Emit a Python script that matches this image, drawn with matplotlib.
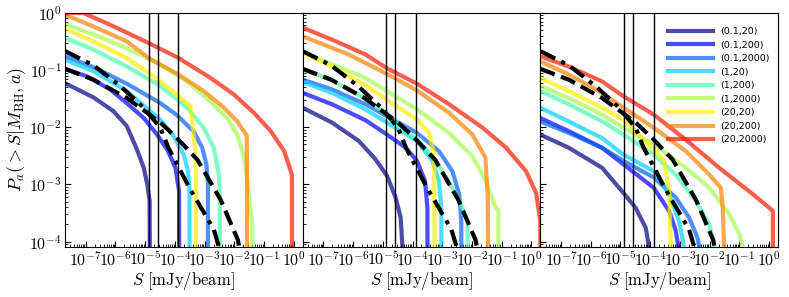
import numpy as np
import matplotlib
matplotlib.use("Agg")
import matplotlib.pyplot as plt
from matplotlib.ticker import LogLocator, FuncFormatter, NullFormatter

plt.rcParams['mathtext.fontset'] = 'cm'

labels = ['(0.1,20)', '(0.1,200)', '(0.1,2000)', '(1,20)', '(1,200)',
          '(1,2000)', '(20,20)', '(20,200)', '(20,2000)']

# curves as (log10 S, log10 P); -9 marks the cut to ~0
# panel 1
p1_logS = [
    [-7.70, -6.74, -6.07, -5.62, -5.27, -5.05, -4.93, -4.85, -4.83],
    [-7.70, -6.97, -6.18, -5.62, -5.05, -4.60, -4.25, -3.98, -3.86, -3.84],
    [-7.70, -6.74, -5.62, -4.49, -3.93, -3.36, -3.08, -2.94, -2.89, -2.88],
    [-7.70, -6.74, -5.62, -4.49, -4.04, -3.70, -3.56, -3.51, -3.50],
    [-7.70, -6.74, -5.62, -4.49, -3.59, -3.03, -2.69, -2.52, -2.49, -2.48],
    [-7.70, -6.74, -5.62, -4.49, -3.59, -2.80, -2.24, -1.90, -1.73, -1.62, -1.40, -1.38],
    [-7.70, -6.74, -5.62, -4.88, -4.15, -3.48, -3.31, -3.29, -3.28],
    [-7.70, -6.74, -5.62, -4.88, -3.88, -3.03, -2.35, -1.90, -1.58, -1.54],
    [-7.70, -7.08, -6.18, -4.88, -3.88, -2.80, -2.01, -1.34, -0.77, -0.32, -0.06, -0.04],
]
p1_logP = [
    [-1.23, -1.48, -1.72, -1.98, -2.40, -2.71, -3.00, -3.29, -9],
    [-0.98, -1.11, -1.34, -1.58, -1.84, -2.13, -2.40, -2.71, -3.12, -9],
    [-0.76, -0.95, -1.24, -1.58, -1.79, -2.08, -2.36, -2.65, -2.94, -9],
    [-0.82, -1.02, -1.37, -1.87, -2.16, -2.48, -2.77, -3.06, -9],
    [-0.44, -0.645, -0.94, -1.28, -1.66, -2.01, -2.36, -2.83, -3.17, -9],
    [-0.20, -0.38, -0.62, -0.91, -1.20, -1.55, -1.84, -2.13, -2.42, -2.65, -3.70, -9],
    [-0.285, -0.50, -0.79, -1.05, -1.34, -1.63, -2.42, -2.83, -9],
    [-0.035, -0.24, -0.50, -0.79, -1.08, -1.37, -1.66, -1.90, -2.15, -9],
    [0.0, -0.005, -0.21, -0.53, -0.79, -1.14, -1.43, -1.75, -2.07, -2.42, -2.83, -9],
]

# panel 2
p2_logS = [
    [-7.70, -6.71, -5.81, -5.25, -4.86, -4.57, -4.40, -4.34, -4.33],
    [-7.70, -6.71, -5.58, -4.86, -4.23, -3.85, -3.58, -3.50, -3.48],
    [-7.70, -6.71, -5.58, -4.86, -3.85, -3.11, -2.66, -2.43, -2.36, -2.35],
    [-7.70, -6.71, -5.58, -4.86, -3.85, -3.33, -3.11, -3.03, -3.02],
    [-7.70, -6.71, -5.58, -4.86, -3.85, -3.22, -2.66, -2.32, -2.15, -2.11],
    [-7.70, -6.71, -5.58, -4.86, -3.85, -2.77, -1.98, -1.53, -1.25, -1.11, -1.10],
    [-7.70, -6.71, -5.58, -4.86, -3.85, -3.44, -3.27, -3.24],
    [-7.70, -6.15, -4.86, -3.85, -2.77, -1.98, -1.55, -1.47, -1.39],
    [-7.70, -6.71, -5.58, -4.86, -3.85, -2.77, -1.64, -0.85, -0.18, 0.16, 0.30, 0.35],
]
p2_logP = [
    [-1.66, -1.92, -2.24, -2.56, -2.85, -3.23, -3.58, -4.09, -9],
    [-1.40, -1.60, -1.88, -2.13, -2.36, -2.59, -2.94, -3.41, -9],
    [-1.17, -1.34, -1.60, -1.81, -2.10, -2.42, -2.77, -3.17, -3.64, -9],
    [-1.21, -1.40, -1.69, -1.92, -2.24, -2.59, -2.94, -3.41, -9],
    [-0.99, -1.18, -1.50, -1.78, -2.22, -2.58, -3.06, -3.41, -3.64, -9],
    [-0.70, -0.90, -1.14, -1.37, -1.69, -2.10, -2.51, -2.94, -3.35, -3.47, -9],
    [-0.70, -0.94, -1.27, -1.52, -1.87, -2.10, -2.48, -9],
    [-0.41, -0.73, -1.07, -1.36, -1.75, -2.13, -2.53, -3.17, -9],
    [-0.26, -0.47, -0.73, -0.97, -1.24, -1.60, -2.01, -2.36, -2.77, -3.15, -3.64, -9],
]

# panel 3
p3_logS = [
    [-7.70, -6.74, -5.62, -4.90, -4.49, -4.15, -4.04, -4.03],
    [-7.70, -6.74, -5.62, -4.90, -3.88, -3.36, -3.14, -3.05, -3.04],
    [-7.70, -6.74, -5.62, -4.90, -3.88, -3.14, -2.69, -2.41, -2.35, -2.34],
    [-7.70, -6.74, -5.62, -4.90, -3.88, -3.36, -3.03, -2.86, -2.85],
    [-7.70, -6.74, -5.62, -4.90, -3.88, -3.14, -2.46, -2.01, -1.90, -1.84, -1.83],
    [-7.70, -6.74, -5.62, -4.90, -3.88, -2.80, -2.01, -1.34, -1.00, -0.89, -0.88],
    [-7.70, -6.74, -5.62, -4.90, -3.88, -3.53, -3.36, -3.31, -3.30],
    [-7.70, -6.74, -5.62, -4.90, -3.88, -2.80, -2.01, -1.62, -1.56, -1.51, -1.50],
    [-7.70, -6.74, -5.62, -4.90, -3.88, -2.80, -1.68, -0.55, 0.01, 0.13, 0.15],
]
p3_logP = [
    [-2.13, -2.36, -2.71, -3.15, -3.41, -3.76, -4.09, -9],
    [-1.84, -2.07, -2.36, -2.65, -3.06, -3.47, -3.81, -4.09, -9],
    [-1.90, -2.10, -2.36, -2.59, -2.88, -3.23, -3.58, -3.93, -4.09, -9],
    [-1.66, -1.90, -2.19, -2.48, -2.77, -3.17, -3.64, -4.09, -9],
    [-1.37, -1.60, -1.90, -2.13, -2.48, -2.83, -3.29, -3.70, -3.93, -4.09, -9],
    [-1.28, -1.49, -1.78, -2.01, -2.30, -2.71, -3.06, -3.52, -3.87, -4.09, -9],
    [-1.14, -1.37, -1.66, -1.87, -2.39, -2.59, -3.12, -4.09, -9],
    [-0.85, -1.08, -1.40, -1.66, -2.01, -2.42, -2.83, -3.06, -3.41, -4.09, -9],
    [-0.76, -0.94, -1.20, -1.46, -1.78, -2.22, -2.71, -3.17, -3.41, -3.47, -9],
]

# black reference curves (same in every panel)
dashdot_logS = [-7.70, -6.74, -5.84, -5.05, -4.49, -4.22, -3.48, -3.14, -2.69, -2.52, -2.40]
dashdot_logP = [-0.67, -0.92, -1.28, -1.66, -2.01, -2.36, -3.09, -3.39, -3.79, -4.09, -4.20]
dashed_logS = [-7.70, -6.74, -5.62, -4.88, -4.49, -3.93, -3.24, -2.46, -1.88, -1.80]
dashed_logP = [-0.98, -1.17, -1.49, -1.77, -1.92, -2.19, -2.57, -3.27, -3.97, -4.20]

vlines_S = [1.3e-5, 2.6e-5, 1.3e-4]

panels = [(p1_logS, p1_logP), (p2_logS, p2_logP), (p3_logS, p3_logP)]
colors = plt.cm.jet(np.linspace(0, 0.88, len(labels)))

fig, axes = plt.subplots(1, 3, sharey=True, figsize=(7.89, 2.97), dpi=100)
plt.subplots_adjust(left=0.0824, right=0.986, bottom=0.168, top=0.957, wspace=0)

fmt = FuncFormatter(lambda v, p: r'$10^{%d}$' % int(round(np.log10(v))))

for ax, (lS, lP) in zip(axes, panels):
    for i in range(len(labels)):
        ax.plot(10 ** np.array(lS[i]), 10 ** np.array(lP[i]), color=colors[i],
                lw=3, alpha=0.7, label=labels[i])
    ax.plot(10 ** np.array(dashdot_logS), 10 ** np.array(dashdot_logP), 'k-.', lw=3,
            dashes=(4, 1.6, 1, 1.6))
    ax.plot(10 ** np.array(dashed_logS), 10 ** np.array(dashed_logP), 'k--', lw=3)
    for s in vlines_S:
        ax.axvline(s, color='k', lw=1)
    ax.set_xscale('log')
    ax.set_yscale('log')
    ax.set_xlim(2e-8, 2)
    ax.set_ylim(8e-5, 1)
    ax.xaxis.set_major_locator(LogLocator(base=10, numticks=100))
    ax.xaxis.set_minor_locator(LogLocator(base=10, subs=np.arange(2, 10), numticks=100))
    ax.xaxis.set_minor_formatter(NullFormatter())
    ax.xaxis.set_major_formatter(fmt)
    ax.yaxis.set_major_formatter(fmt)
    ax.tick_params(which='both', direction='in', labelsize=11.5, pad=2.5)
    ax.tick_params(which='major', length=4)
    ax.tick_params(which='minor', length=2)
    ax.set_xlabel(r'$S\ [\mathrm{mJy/beam}]$', fontsize=12, labelpad=1)

axes[0].set_ylabel(r'$P_a(>S|M_{\rm BH},a)$', fontsize=13, labelpad=1)
axes[2].legend(loc='upper right', bbox_to_anchor=(1.0, 0.975), frameon=False,
               fontsize=6.8, handlelength=4.8, handletextpad=0.7,
               labelspacing=0.48, borderaxespad=0.5)

plt.savefig('out.png', dpi=100)
